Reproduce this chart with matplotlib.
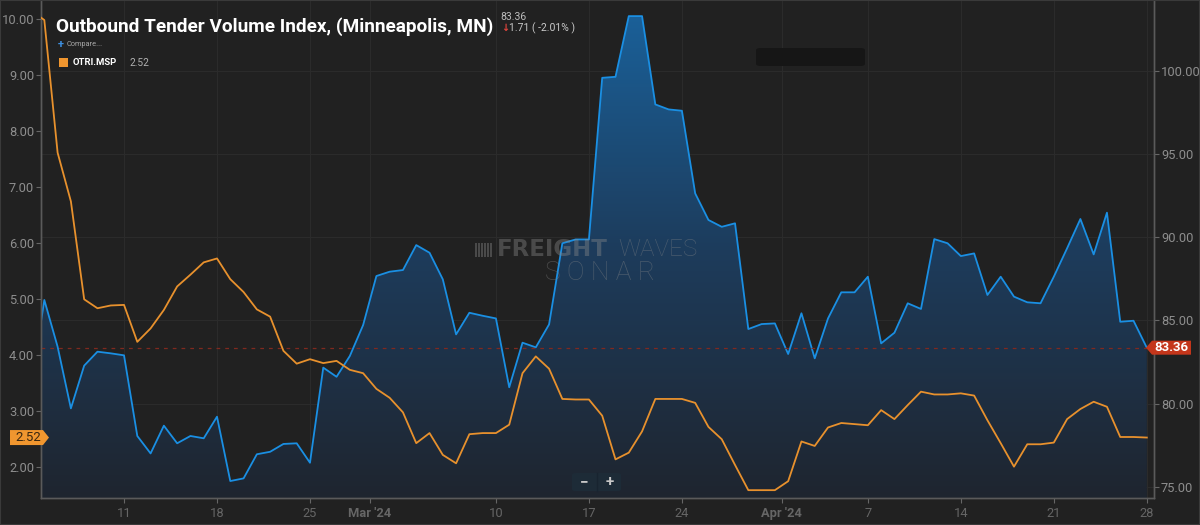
import numpy as np
import matplotlib
matplotlib.use('Agg')
import matplotlib.pyplot as plt
import matplotlib.dates as mdates
from matplotlib.colors import LinearSegmentedColormap
from matplotlib.patches import Polygon, Rectangle, FancyBboxPatch
import pandas as pd

plt.rcParams['font.family'] = ['Roboto', 'DejaVu Sans']

# ---------------- data ----------------
dates = pd.date_range('2024-02-04', '2024-04-28', freq='D')

otvi = [81.0, 86.23, 83.42, 79.71, 82.28, 83.12, 83.02, 82.90, 78.05, 77.00,
        78.67, 77.61, 78.05, 77.91, 79.21, 75.34, 75.50, 76.95, 77.10, 77.57,
        77.61, 76.44, 82.16, 81.61, 82.86, 84.72,
        87.67, 87.93, 88.03, 89.53, 89.07, 87.47, 84.16, 85.46, 85.28, 85.12,
        80.98, 83.66, 83.38, 84.76, 89.64, 89.87, 89.87, 99.59, 99.65, 103.30,
        103.30, 97.99, 97.69, 97.61, 92.64, 91.04, 90.63, 90.84, 84.48, 84.78,
        84.82,
        82.98, 85.43, 82.72, 85.12, 86.69, 86.69, 87.63, 83.62, 84.26, 86.03,
        85.69, 89.89, 89.64, 88.87, 89.03, 86.53, 87.63, 86.43, 86.09, 86.03,
        87.63, 89.34, 91.10, 88.97, 91.48, 84.92, 84.98, 83.36]

otri = [10.15, 9.98, 7.61, 6.74, 4.99, 4.83, 4.88, 4.89, 4.23, 4.47,
        4.80, 5.22, 5.43, 5.65, 5.72, 5.35, 5.12, 4.81, 4.68, 4.07,
        3.84, 3.92, 3.85, 3.89, 3.73, 3.67,
        3.39, 3.23, 2.97, 2.42, 2.60, 2.21, 2.06, 2.58, 2.60, 2.60,
        2.75, 3.67, 3.97, 3.75, 3.21, 3.20, 3.20, 2.91, 2.13, 2.25,
        2.63, 3.21, 3.21, 3.21, 3.14, 2.71, 2.49, 2.03, 1.58, 1.58,
        1.58,
        1.74, 2.45, 2.37, 2.70, 2.78, 2.76, 2.74, 3.01, 2.85, 3.10,
        3.34, 3.29, 3.29, 3.31, 3.27, 2.83, 2.42, 2.00, 2.40, 2.40,
        2.43, 2.85, 3.03, 3.16, 3.07, 2.53, 2.53, 2.52]

x_tick_dates = ['2024-02-11 00:00', '2024-02-18 00:00', '2024-02-25 00:00',
                '2024-02-29 12:00', '2024-03-10 00:00', '2024-03-17 00:00',
                '2024-03-24 00:00', '2024-03-31 12:00', '2024-04-07 00:00',
                '2024-04-14 00:00', '2024-04-21 00:00', '2024-04-28 00:00']
x_tick_labels = ['11', '18', '25', "Mar '24", '10', '17', '24', "Apr '24",
                 '7', '14', '21', '28']
month_labels = ["Mar '24", "Apr '24"]
left_ticks = [2, 3, 4, 5, 6, 7, 8, 9, 10]
right_ticks = [75, 80, 85, 90, 95, 100]

title = 'Outbound Tender Volume Index, (Minneapolis, MN)'
last_otvi = 83.36
change_text = '1.71 ( -2.01% )'
series_name = 'OTRI.MSP'
last_otri = 2.52

# ---------------- style ----------------
BG = '#212121'
GRID = '#2b2b2b'
TICKC = '#8e8e8e'
BLUE = '#1a8fe3'
ORANGE = '#e8912d'
W, H = 1200, 525

fig = plt.figure(figsize=(W / 100, H / 100), dpi=100, facecolor=BG)


def fx(px):
    return px / W


def fy(py):
    return 1 - py / H


ax = fig.add_axes([fx(41), fy(498), (1154 - 41) / W, (498 - 1) / H])
ax2 = ax.twinx()
ax.set_zorder(ax2.get_zorder() + 1)
ax.patch.set_visible(False)
ax2.patch.set_visible(True)
ax2.patch.set_facecolor(BG)

xnum = mdates.date2num(dates)
x0 = mdates.date2num(pd.Timestamp('2024-02-04 18:00'))
x1 = mdates.date2num(pd.Timestamp('2024-04-28 13:00'))
yl = (1.44, 10.32)
yr = (74.32, 104.21)

# grid (on the right axis, beneath the fill)
for t in right_ticks:
    ax2.axhline(t, color=GRID, lw=0.8, zorder=0.5)
tick_nums = mdates.date2num(pd.to_datetime(x_tick_dates, format='%Y-%m-%d %H:%M'))
for t in tick_nums:
    ax2.axvline(t, color=GRID, lw=0.8, zorder=0.5)

# gradient area under OTVI
poly = ax2.fill_between(xnum, otvi, yr[0], color='none', lw=0, zorder=1)
cmap = LinearSegmentedColormap.from_list('g', ['#1f252f', '#1d3c5c', '#1a629c'])
grad = np.linspace(0, 1, 256).reshape(-1, 1)
im = ax2.imshow(grad, extent=[x0, x1, yr[0], yr[1]], origin='lower',
                aspect='auto', cmap=cmap, zorder=1)
im.set_clip_path(poly.get_paths()[0], transform=ax2.transData)
ax2.plot(xnum, otvi, color=BLUE, lw=1.3, zorder=2)
ax2.axhline(last_otvi, color='#80291f', lw=0.9, ls=(0, (3, 4)), zorder=2)

ax.plot(xnum, otri, color=ORANGE, lw=1.3, zorder=3)

ax.set_xlim(x0, x1)
ax2.set_xlim(x0, x1)
ax.set_ylim(*yl)
ax2.set_ylim(*yr)

# ticks
ax.set_yticks(left_ticks)
ax.set_yticklabels([f'{v:.2f}' for v in left_ticks])
ax2.set_yticks(right_ticks)
ax2.set_yticklabels([f'{v:.2f}' for v in right_ticks])
ax.set_xticks(tick_nums)
ax.set_xticklabels(x_tick_labels)
for lab in ax.get_xticklabels():
    if lab.get_text() in month_labels:
        lab.set_color('#e6e6e6')
        lab.set_fontweight('bold')
    else:
        lab.set_color(TICKC)

ax.tick_params(axis='y', colors='#666666', labelcolor=TICKC, labelsize=9.3,
               length=3.5, width=0.8, pad=1.5)
ax2.tick_params(axis='y', colors='#666666', labelcolor=TICKC, labelsize=9.3,
                length=3.5, width=0.8, pad=1.5)
ax.tick_params(axis='x', colors='#666666', labelsize=9.3, length=3.5,
               width=0.8, pad=3)

for a in (ax, ax2):
    a.spines['top'].set_visible(False)
    for s in ['left', 'right', 'bottom']:
        a.spines[s].set_color('#5a5a5a')
        a.spines[s].set_linewidth(1.0)

# ---------------- value labels on axes ----------------
fig.canvas.draw()
inv = fig.transFigure.inverted()

yc_l = ax.transData.transform((x0, last_otri))[1]
pts = [(10, yc_l - 7.5), (43, yc_l - 7.5), (49, yc_l), (43, yc_l + 7.5),
       (10, yc_l + 7.5)]
fig.patches.append(Polygon([inv.transform(p) for p in pts], closed=True,
                           facecolor='#f0962f', edgecolor='none',
                           transform=fig.transFigure, zorder=5))
fig.text(*inv.transform((28, yc_l)), f'{last_otri:.2f}', color='#3a2710',
         fontsize=9.5, ha='center', va='center', zorder=6)

yc_r = ax2.transData.transform((x1, last_otvi))[1]
pts = [(1146, yc_r), (1152, yc_r + 7), (1191, yc_r + 7), (1191, yc_r - 7),
       (1152, yc_r - 7)]
fig.patches.append(Polygon([inv.transform(p) for p in pts], closed=True,
                           facecolor='#c4361b', edgecolor='none',
                           transform=fig.transFigure, zorder=5))
fig.text(*inv.transform((1171, yc_r)), f'{last_otvi:.2f}', color='white',
         fontsize=9.5, fontweight='bold', ha='center', va='center', zorder=6)

# ---------------- header texts ----------------
fig.text(fx(55.5), fy(27), title, color='white', fontsize=13.65,
         fontweight='bold', va='center', ha='left')
fig.text(fx(500), fy(17), f'{last_otvi:.2f}', color='#bdbdbd', fontsize=7.5,
         va='center', ha='left')
fig.text(fx(501), fy(28), '↓', color='#e0443c', fontsize=7,
         fontweight='bold', va='center', ha='left',
         family=['DejaVu Sans'])
fig.text(fx(509), fy(28), change_text, color='#c8c8c8', fontsize=7.5,
         va='center', ha='left')
fig.text(fx(58), fy(45), '+', color='#3d8fe0', fontsize=8, fontweight='bold',
         va='center', ha='left')
fig.text(fx(67), fy(45), 'Compare...', color='#a8a8a8', fontsize=5.3,
         va='center', ha='left')
fig.patches.append(Rectangle((fx(59), fy(67)), 9 / W, 9 / H,
                             facecolor='#f0962f', edgecolor='none',
                             transform=fig.transFigure, zorder=5))
fig.text(fx(73), fy(62.5), series_name, color='white', fontsize=6.8,
         fontweight='bold', va='center', ha='left')
fig.text(fx(129), fy(62.5), f'{last_otri:.2f}', color='#b0b0b0',
         fontsize=7.3, va='center', ha='left')

# dark placeholder box
fig.patches.append(FancyBboxPatch((fx(756), fy(66)), 109 / W, 18 / H,
                                  boxstyle='round,pad=0,rounding_size=0.004',
                                  facecolor='#161616', edgecolor='none',
                                  transform=fig.transFigure, zorder=5))

# zoom buttons
fig.patches.append(FancyBboxPatch((fx(572), fy(491)), 49 / W, 18 / H,
                                  boxstyle='round,pad=0,rounding_size=0.003',
                                  facecolor='#1d2b37', edgecolor='none',
                                  transform=fig.transFigure, zorder=5))
fig.lines.append(plt.Line2D([fx(596.7), fx(596.7)], [fy(491), fy(473)],
                            color='#182430', lw=1, transform=fig.transFigure,
                            zorder=6))
fig.text(fx(584), fy(482), '−', color='#c8c8c8', fontsize=11,
         fontweight='bold', ha='center', va='center', zorder=7)
fig.text(fx(609.5), fy(482), '+', color='#c8c8c8', fontsize=11,
         fontweight='bold', ha='center', va='center', zorder=7)

# watermark
wm = dict(color='#8a8a8a', alpha=0.40, va='center', zorder=4)
for i in range(6):
    xx = 475 + i * 3.0
    fig.patches.append(Rectangle((fx(xx), fy(257)), 1.6 / W, 14 / H,
                                 facecolor='#8a8a8a', alpha=0.40,
                                 edgecolor='none', transform=fig.transFigure,
                                 zorder=4))
fig.text(fx(497), fy(250), 'FREIGHT', fontsize=16.5, fontweight='bold',
         ha='left', family=['DejaVu Sans'], **wm)
fig.text(fx(618), fy(250), 'WAVES', fontsize=17.5, fontweight='light',
         ha='left', **wm)
fig.text(fx(600), fy(273.5), 'S O N A R', fontsize=19, fontweight='light',
         ha='center', **wm)

# figure border
fig.patches.append(Rectangle((0, 0), 1, 1, facecolor='none',
                             edgecolor='#3a3a3a', lw=1.5,
                             transform=fig.transFigure, zorder=10))

fig.savefig('out.png', dpi=100, facecolor=BG)
